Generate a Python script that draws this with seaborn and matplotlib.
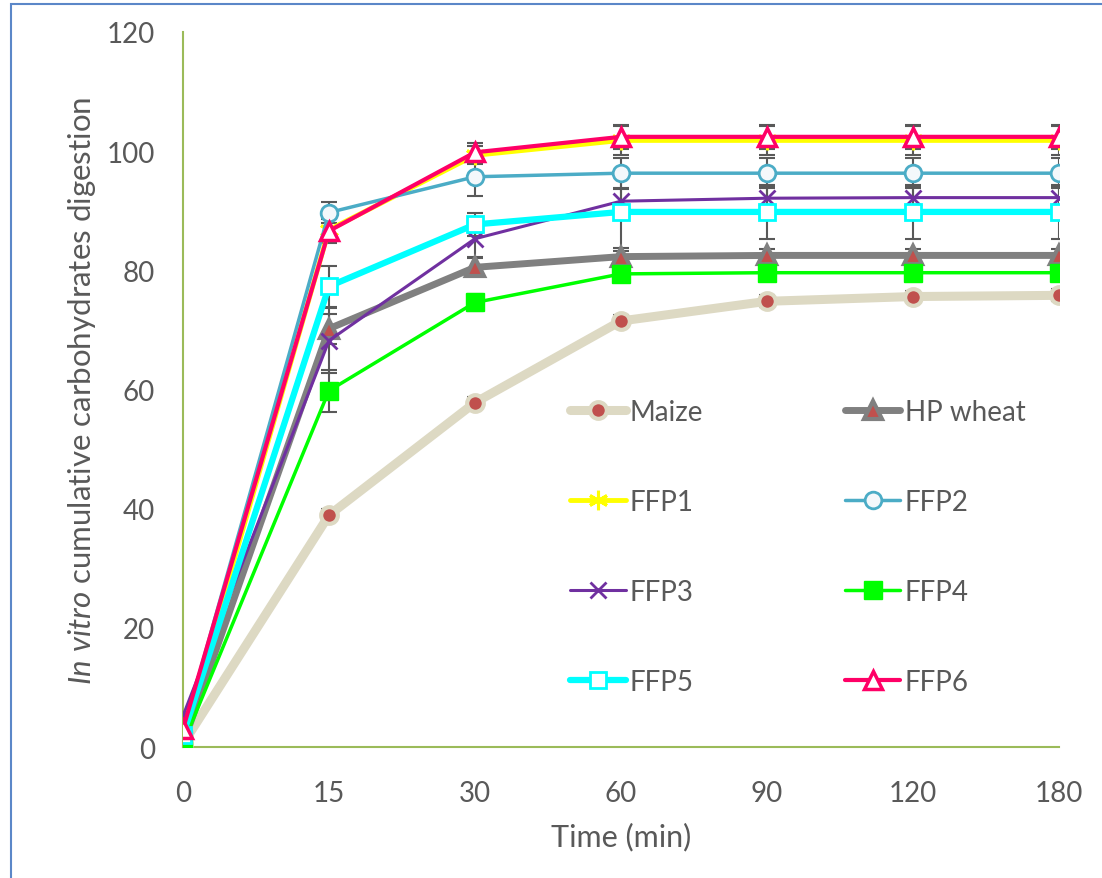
import matplotlib
matplotlib.use('Agg')
import matplotlib.pyplot as plt
import matplotlib.patches as mpatches
import seaborn as sns
import pandas as pd

# Data
times = ['0', '15', '30', '60', '90', '120', '180']
maize = [0.5, 38.9, 57.8, 71.5, 74.8, 75.6, 75.8]
hp_wheat = [0.5, 70.2, 80.5, 82.3, 82.5, 82.5, 82.5]
ffp1 = [1.5, 86.8, 99.3, 101.8, 101.8, 101.8, 101.8]
ffp2 = [2.5, 89.7, 95.7, 96.3, 96.3, 96.3, 96.3]
ffp3 = [5.2, 68.2, 85.3, 91.6, 92.1, 92.2, 92.2]
ffp4 = [0.5, 59.8, 74.6, 79.4, 79.6, 79.6, 79.6]
ffp5 = [2.0, 77.3, 87.7, 89.8, 89.8, 89.8, 89.8]
ffp6 = [3.0, 86.6, 99.8, 102.4, 102.4, 102.4, 102.4]

# standard deviations (approximate)
maize_err = [0, 1.0, 1.0, 1.0, 1.0, 1.0, 1.0]
hp_wheat_err = [0, 2.5, 1.5, 1.0, 1.0, 1.0, 1.0]
ffp1_err = [0, 2.0, 1.5, 2.5, 2.5, 2.5, 2.5]
ffp2_err = [0, 1.8, 3.2, 2.5, 2.5, 2.5, 2.5]
ffp3_err = [0, 5.5, 3.0, 2.0, 2.0, 2.0, 2.0]
ffp4_err = [0, 3.5, 1.5, 1.0, 1.0, 1.0, 1.0]
ffp5_err = [0, 3.4, 2.0, 6.0, 4.5, 4.5, 4.5]
ffp6_err = [0, 2.0, 1.5, 2.0, 2.0, 2.0, 2.0]

names = ['Maize', 'HP wheat', 'FFP1', 'FFP2', 'FFP3', 'FFP4', 'FFP5', 'FFP6']
values = [maize, hp_wheat, ffp1, ffp2, ffp3, ffp4, ffp5, ffp6]
errors = [maize_err, hp_wheat_err, ffp1_err, ffp2_err, ffp3_err, ffp4_err, ffp5_err, ffp6_err]

sns.set_style('white')
plt.rcParams['font.family'] = ['Lato', 'DejaVu Sans']
plt.rcParams['mathtext.fontset'] = 'custom'
plt.rcParams['mathtext.rm'] = 'Lato'
plt.rcParams['mathtext.it'] = 'Lato:italic'

text_color = '#595959'
styles = {
    'Maize': dict(color='#DDD9C3', lw=6.5, marker='o', ms=12, mfc='#C0504D', mec='#DDD9C3', mew=3),
    'HP wheat': dict(color='#808080', lw=5, marker='^', ms=13, mfc='#C0504D', mec='#808080', mew=3),
    'FFP1': dict(color='#FFFF00', lw=3.5, marker=(6, 2, 0), ms=14, mfc='#FFFF00', mec='#FFFF00', mew=2.2),
    'FFP2': dict(color='#4BACC6', lw=2.5, marker='o', ms=12, mfc='#F4F8FB', mec='#4BACC6', mew=2),
    'FFP3': dict(color='#7030A0', lw=2.2, marker='x', ms=11, mfc='#7030A0', mec='#7030A0', mew=2),
    'FFP4': dict(color='#00FF00', lw=2.5, marker='s', ms=13, mfc='#00FF00', mec='#00FF00', mew=1),
    'FFP5': dict(color='#00FFFF', lw=4.5, marker='s', ms=11, mfc='white', mec='#00FFFF', mew=2),
    'FFP6': dict(color='#FF0066', lw=3, marker='^', ms=13, mfc='white', mec='#FF0066', mew=2.5),
}

fig = plt.figure(figsize=(11.02, 8.79), dpi=100)
ax = fig.add_axes([0.166, 0.149, 0.795, 0.8135])

pos = list(range(len(times)))
for name, vals, err in zip(names, values, errors):
    ax.errorbar(pos, vals, yerr=err, fmt='none', ecolor='#595959', elinewidth=1.5,
                capsize=6, capthick=1.5, zorder=1)
    sns.lineplot(x=pos, y=vals, ax=ax, label=name, zorder=2, **styles[name])

h, l = ax.get_legend_handles_labels()
lookup = dict(zip(l, h))
order = ['Maize', 'FFP1', 'FFP3', 'FFP5', 'HP wheat', 'FFP2', 'FFP4', 'FFP6']
ax.legend([lookup[o] for o in order], order, ncol=2, loc='upper left',
          bbox_to_anchor=(0.426, 0.506), frameon=False, fontsize=20,
          labelcolor=text_color, borderpad=0, labelspacing=2.3,
          handlelength=2.0, handletextpad=0.15, columnspacing=5.1)

ax.set_xlim(0, 6)
ax.set_ylim(0, 120)
ax.set_xticks(pos)
ax.set_xticklabels(times)
ax.set_yticks(range(0, 121, 20))
ax.tick_params(axis='both', length=0, labelsize=20, colors=text_color, pad=20)
ax.tick_params(axis='x', pad=24)
ax.set_xlabel('Time (min)', fontsize=22, color=text_color, labelpad=11)
ax.set_ylabel(r'$\mathit{In\ vitro}$ cumulative carbohydrates digestion',
              fontsize=22.5, color=text_color, labelpad=6)

for side in ['top', 'right']:
    ax.spines[side].set_visible(False)
for side in ['left', 'bottom']:
    ax.spines[side].set_color('#9BBB59')
    ax.spines[side].set_linewidth(1.5)
    ax.spines[side].set_zorder(0)

# outer border
fig.patches.append(mpatches.Rectangle((11 / 1102, -0.05), 1.0, 1 - 5 / 879 + 0.05,
                                      transform=fig.transFigure, fill=False,
                                      edgecolor='#5B87C8', lw=1.5))

fig.savefig('out.png', dpi=100)
